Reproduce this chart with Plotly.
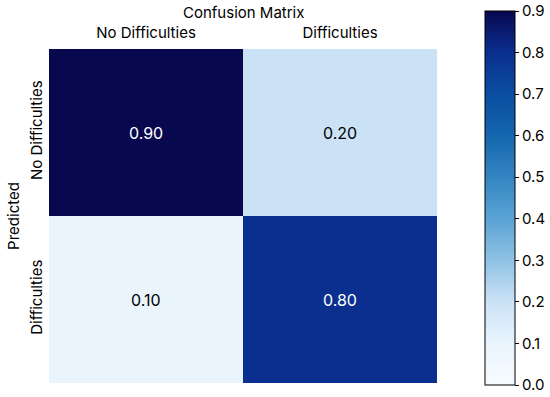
import plotly.graph_objects as go

x_labels = ["No Difficulties", "Difficulties"]
y_labels = ["No Difficulties", "Difficulties"]
values = [[0.90, 0.20],
          [0.10, 0.80]]
cbar_ticks = [0.0, 0.1, 0.2, 0.3, 0.4, 0.5, 0.6, 0.7, 0.8, 0.9]

# colours sampled from the reference colourbar (0.0 .. 0.9)
scale_colors = ['#f7fbff', '#e9f4fd', '#cbe2f6', '#8fc2e4', '#5aa3d4',
                '#3385c2', '#1466ae', '#0a4ea0', '#0b2f8f', '#08084f']
colorscale = [[i / (len(scale_colors) - 1), c] for i, c in enumerate(scale_colors)]

FONT = "Inter, Liberation Sans, sans-serif"

fig = go.Figure(go.Heatmap(
    z=values, x=x_labels, y=y_labels,
    colorscale=colorscale, zmin=0, zmax=0.9,
    showscale=True,
    colorbar=dict(
        thickness=30, thicknessmode="pixels",
        len=374, lenmode="pixels",
        xpad=0, ypad=0,
        x=(485 - 49) / 388, xanchor="left", y=(383 - 11) / 334, yanchor="top",
        outlinecolor="black", outlinewidth=1,
        ticks="outside", ticklen=4, tickcolor="black",
        tickvals=cbar_ticks, ticktext=[f"{t:.1f}" for t in cbar_ticks],
        tickfont=dict(size=15, family=FONT, color="black"),
    ),
))

annotations = []
for i, yl in enumerate(y_labels):
    for j, xl in enumerate(x_labels):
        v = values[i][j]
        annotations.append(dict(
            x=xl, y=yl, text=f"{v:.2f}", showarrow=False,
            font=dict(size=16, family=FONT, color="white" if v > 0.5 else "black"),
        ))

fig.update_layout(
    width=550, height=397,
    margin=dict(l=49, r=113, t=49, b=14, autoexpand=False),
    paper_bgcolor="white", plot_bgcolor="white",
    font=dict(family=FONT, color="black"),
    annotations=annotations + [dict(
        text="Confusion Matrix", x=0.5, y=(383 - 12) / 334, xref="paper", yref="paper",
        showarrow=False, font=dict(size=15, family=FONT, color="black"),
        xanchor="center", yanchor="middle",
    )],
    xaxis=dict(side="top", showgrid=False, zeroline=False, ticks="",
               ticklabelstandoff=7,
               tickfont=dict(size=15, family=FONT, color="black")),
    yaxis=dict(autorange="reversed", showgrid=False, zeroline=False, ticks="",
               tickangle=-90, ticklabelstandoff=3,
               tickfont=dict(size=15, family=FONT, color="black"),
               title=dict(text="Predicted", font=dict(size=15, family=FONT, color="black"),
                          standoff=3)),
)

fig.write_html("out.html", config={"displayModeBar": False},
               post_script="document.body.style.margin='0';document.body.style.overflow='hidden';")
